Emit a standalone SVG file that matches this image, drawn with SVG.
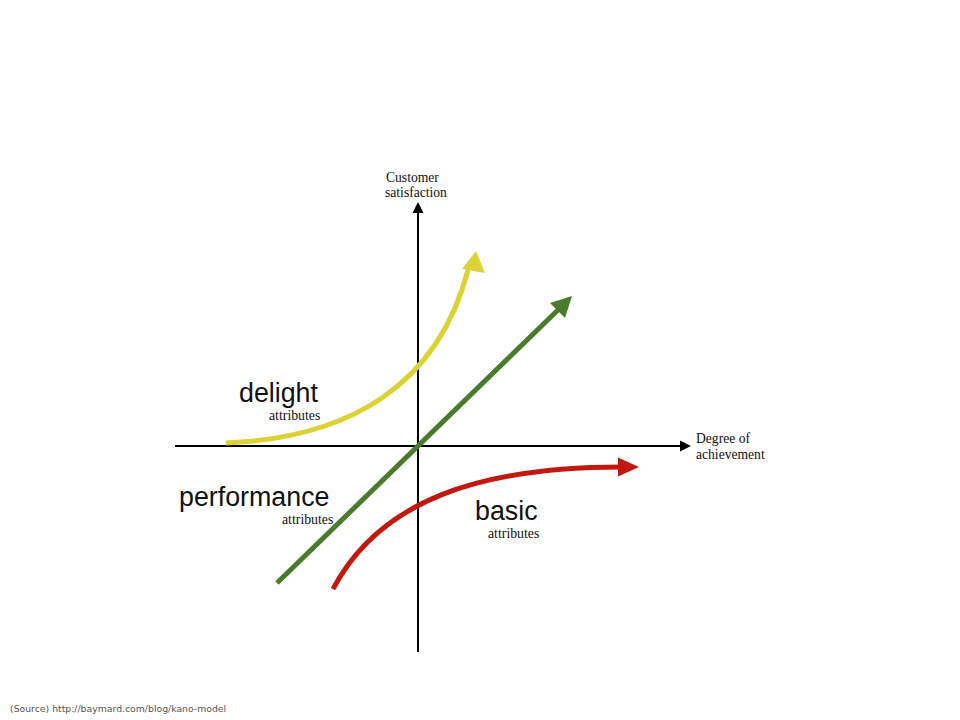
<svg xmlns="http://www.w3.org/2000/svg" width="960" height="720" viewBox="0 0 960 720">
<style>
.big{font-family:"Liberation Sans",Arial,sans-serif;font-size:26.8px;fill:#111}
.small{font-family:"Liberation Serif","Times New Roman",serif;font-size:13.8px;fill:#111}
.axislbl{font-family:"Liberation Serif","Times New Roman",serif;font-size:13.6px;fill:#111}
.src{font-family:"DejaVu Sans",sans-serif;font-size:9.3px;fill:#555}
</style>
<rect width="960" height="720" fill="#fff"/>
<g id="connectors">
  <g id="axes" stroke="#000" stroke-width="2" fill="none">
    <line x1="175" y1="446" x2="682" y2="446"/>
    <line x1="418" y1="652" x2="418" y2="211"/>
  </g>
  <polygon points="691,446 680,440.5 680,451.5" fill="#000"/>
  <polygon points="418,202 412.5,213 423.5,213" fill="#000"/>
  <path id="delight-curve" d="M226,443 C350,438 438,385 468,270" fill="none" stroke="#dbd236" stroke-width="5"/>
  <polygon points="476,251 462,269 485,273" fill="#dbd236"/>
  <line id="performance-line" x1="277" y1="583" x2="560" y2="308" stroke="#4a7a2b" stroke-width="5"/>
  <polygon points="572,296 550,303 565,318" fill="#4a7a2b"/>
  <path id="basic-curve" d="M333,589 C380,500 480,467 622,467" fill="none" stroke="#c2180f" stroke-width="5"/>
  <polygon points="639,467 618,457.5 618,476.5" fill="#c2180f"/>
</g>
<g id="y-axis-label">
  <text class="axislbl" x="386" y="182">Customer</text>
  <text class="axislbl" x="385" y="197">satisfaction</text>
</g>
<g id="x-axis-label">
  <text class="axislbl" x="696" y="443">Degree of</text>
  <text class="axislbl" x="696" y="459">achievement</text>
</g>
<g id="delight">
  <text class="big" x="239" y="402">delight</text>
  <text class="small" x="269" y="420">attributes</text>
</g>
<g id="performance">
  <text class="big" x="179" y="506">performance</text>
  <text class="small" x="282" y="524">attributes</text>
</g>
<g id="basic">
  <text class="big" x="475" y="520">basic</text>
  <text class="small" x="488" y="538">attributes</text>
</g>
<text class="src" x="10" y="712">(Source) http://baymard.com/blog/kano-model</text>
</svg>
